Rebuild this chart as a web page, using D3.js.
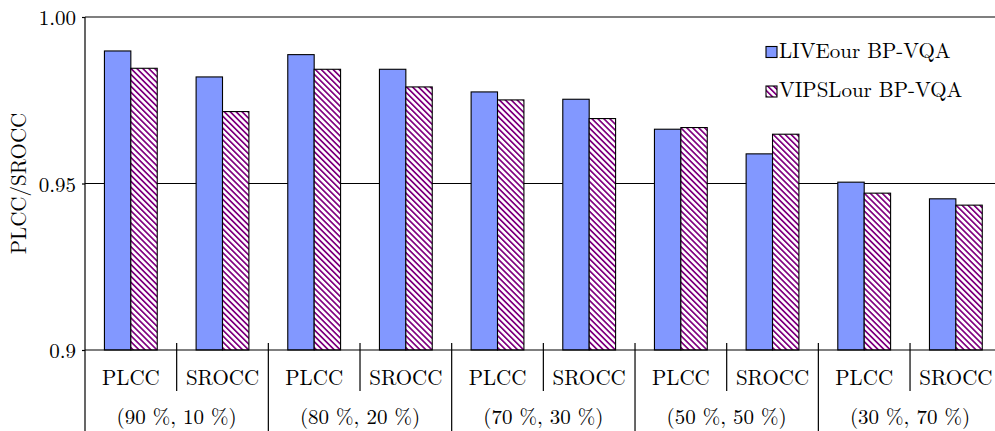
<!DOCTYPE html>
<html>
<head>
<meta charset="utf-8">
<script src="https://cdn.jsdelivr.net/npm/d3@7"></script>
<style>
  body { margin: 0; background: #fff; }
</style>
</head>
<body>
<div id="chart"></div>
<script>
var metrics = ["PLCC", "SROCC", "PLCC", "SROCC", "PLCC", "SROCC", "PLCC", "SROCC", "PLCC", "SROCC"]
var splits = ["(90 %, 10 %)", "(80 %, 20 %)", "(70 %, 30 %)", "(50 %, 50 %)", "(30 %, 70 %)"]
var seriesNames = ["LIVEour BP-VQA", "VIPSLour BP-VQA"]
var liveValues = [0.9898, 0.9820, 0.9887, 0.9843, 0.9775, 0.9753, 0.9663, 0.9589, 0.9504, 0.9454]
var vipslValues = [0.9846, 0.9716, 0.9843, 0.9790, 0.9751, 0.9695, 0.9668, 0.9648, 0.9471, 0.9435]
var yTicks = [0.9, 0.95, 1.00]
var yTickLabels = ["0.9", "0.95", "1.00"]

var FONT = "Latin Modern Roman, Liberation Serif, serif";

var draw = function() {
  var width = 995, height = 431;
  var left = 85, top = 17, bottom = 350;
  var catWidth = 91.67;
  var barWidth = 26.4;

  var svg = d3.select("#chart").append("svg")
              .attr("width", width)
              .attr("height", height)
              .attr("font-family", FONT);

  // hatch pattern (north west lines)
  var defs = svg.append("defs");
  var pat = defs.append("pattern")
              .attr("id", "hatch")
              .attr("patternUnits", "userSpaceOnUse")
              .attr("width", 4.2)
              .attr("height", 4.2)
              .attr("patternTransform", "rotate(-45)");
  pat.append("rect").attr("width", 4.2).attr("height", 4.2).attr("fill", "#fff");
  pat.append("rect").attr("width", 1.7).attr("height", 4.2).attr("fill", "#800080");

  var cats = d3.range(metrics.length);
  var x = d3.scaleBand()
            .domain(cats)
            .range([left, left + catWidth * metrics.length])
            .paddingInner(0);
  var x1 = d3.scaleBand()
            .domain([0, 1])
            .range([x.bandwidth() / 2 - barWidth, x.bandwidth() / 2 + barWidth]);
  var y = d3.scaleLinear()
            .domain([0.9, 1.0])
            .range([bottom, top]);

  // gridline + frame
  svg.append("line")
     .attr("x1", left).attr("x2", width)
     .attr("y1", y(0.95)).attr("y2", y(0.95))
     .attr("stroke", "#000").attr("stroke-width", 1.2);
  svg.append("line")
     .attr("x1", left).attr("x2", width)
     .attr("y1", top).attr("y2", top)
     .attr("stroke", "#000").attr("stroke-width", 1.2);

  var rows = cats.map(function(i) { return [liveValues[i], vipslValues[i]]; });
  var fills = ["#8298ff", "url(#hatch)"];

  var g = svg.selectAll(".cat")
             .data(rows)
             .enter()
             .append("g")
             .attr("class", "cat")
             .attr("transform", function(d, i) { return "translate(" + x(i) + ",0)"; });
  g.selectAll("rect")
   .data(function(d) { return d; })
   .enter()
   .append("rect")
   .attr("x", function(d, j) { return x1(j); })
   .attr("width", x1.bandwidth())
   .attr("y", function(d) { return y(d); })
   .attr("height", function(d) { return bottom - y(d); })
   .attr("fill", function(d, j) { return fills[j]; })
   .attr("stroke", "#000")
   .attr("stroke-width", 1.1);

  // axes lines
  svg.append("line")
     .attr("x1", left).attr("x2", width)
     .attr("y1", bottom).attr("y2", bottom)
     .attr("stroke", "#000").attr("stroke-width", 1.2);
  svg.append("line")
     .attr("x1", left).attr("x2", left)
     .attr("y1", top).attr("y2", height)
     .attr("stroke", "#000").attr("stroke-width", 1.2);

  // y ticks
  var yAxis = svg.append("g")
                 .attr("transform", "translate(" + left + ",0)")
                 .call(d3.axisLeft(y)
                         .tickValues(yTicks)
                         .tickSize(3)
                         .tickPadding(6)
                         .tickFormat(function(d, i) { return yTickLabels[i]; }));
  yAxis.select(".domain").remove();
  yAxis.attr("font-family", FONT).attr("font-size", 21);
  yAxis.selectAll("line").attr("stroke-width", 1.2);
  yAxis.selectAll("text")
       .style("font-family", FONT)
       .attr("dy", "0.36em");

  svg.append("text")
     .attr("transform", "translate(26," + (top + bottom) / 2 + ") rotate(-90)")
     .attr("text-anchor", "middle")
     .style("font-family", FONT)
     .attr("font-size", 21)
     .text("PLCC/SROCC");

  // category separators and labels
  svg.selectAll(".sep")
     .data(cats.slice(1))
     .enter()
     .append("line")
     .attr("x1", function(d) { return x(d); })
     .attr("x2", function(d) { return x(d); })
     .attr("y1", bottom - 7)
     .attr("y2", function(d) { return d % 2 == 0 ? height : 391; })
     .attr("stroke", "#000")
     .attr("stroke-width", 1.2);

  svg.selectAll(".metric")
     .data(metrics)
     .enter()
     .append("text")
     .attr("x", function(d, i) { return x(i) + x.bandwidth() / 2; })
     .attr("y", 385)
     .attr("text-anchor", "middle")
     .style("font-family", FONT)
     .attr("font-size", 21)
     .text(function(d) { return d; });

  svg.selectAll(".split")
     .data(splits)
     .enter()
     .append("text")
     .attr("x", function(d, i) { return x(i * 2 + 1); })
     .attr("y", 424)
     .attr("text-anchor", "middle")
     .style("font-family", FONT)
     .attr("font-size", 21)
     .text(function(d) { return d; });

  // legend
  var legend = svg.selectAll(".legend")
                  .data(seriesNames)
                  .enter()
                  .append("g")
                  .attr("class", "legend")
                  .attr("transform", function(d, i) { return "translate(766," + (52 + i * 39.5) + ")"; });
  legend.append("rect")
        .attr("x", 0).attr("y", -5.5)
        .attr("width", 11).attr("height", 11)
        .attr("fill", function(d, i) { return fills[i]; })
        .attr("stroke", "#000")
        .attr("stroke-width", 1.1);
  legend.append("text")
        .attr("x", 13)
        .attr("y", 5.5)
        .style("font-family", FONT)
        .attr("font-size", 21)
        .text(function(d) { return d; });
};
draw();
</script>
</body>
</html>
